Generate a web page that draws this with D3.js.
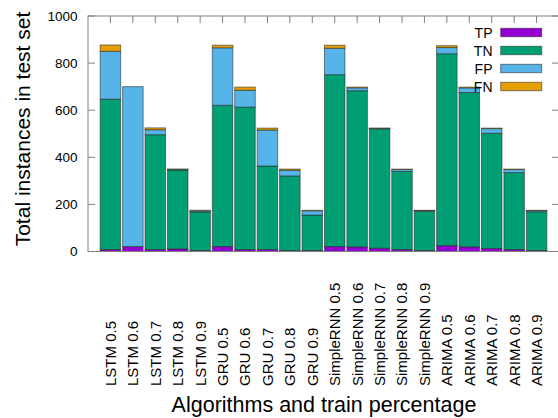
<!DOCTYPE html>
<html>
<head>
<meta charset="utf-8">
<script src="https://cdn.jsdelivr.net/npm/d3@7"></script>
<style>
  body { margin: 0; background: #fff; }
  svg { display: block; font-family: "Liberation Sans", Arial, sans-serif; }
</style>
</head>
<body>
<div id="chart"></div>
<script>
const categories = [
  "LSTM 0.5", "LSTM 0.6", "LSTM 0.7", "LSTM 0.8", "LSTM 0.9",
  "GRU 0.5", "GRU 0.6", "GRU 0.7", "GRU 0.8", "GRU 0.9",
  "SimpleRNN 0.5", "SimpleRNN 0.6", "SimpleRNN 0.7", "SimpleRNN 0.8", "SimpleRNN 0.9",
  "ARIMA 0.5", "ARIMA 0.6", "ARIMA 0.7", "ARIMA 0.8", "ARIMA 0.9"
];
const tpValues = [8, 21, 8, 11, 4, 21, 8, 8, 4, 4, 21, 20, 14, 8, 4, 25, 20, 13, 8, 4];
const tnValues = [639, 0, 488, 335, 164, 600, 605, 355, 317, 151, 730, 663, 507, 332, 167, 815, 655, 489, 327, 165];
const fpValues = [203, 679, 21, 3, 5, 244, 72, 153, 24, 18, 112, 12, 2, 8, 3, 26, 20, 20, 13, 5];
const fnValues = [27, 0, 8, 1, 2, 11, 13, 8, 5, 2, 13, 3, 1, 2, 1, 8, 3, 2, 2, 1];
const seriesKeys = ["TP", "TN", "FP", "FN"];
const seriesColors = ["#9400d3", "#009e73", "#56b4e9", "#e69f00"];
const yTicks = [0, 200, 400, 600, 800, 1000];

const W = 558, H = 418;
const plot = { left: 88, right: 559, top: 16, bottom: 251.5 };

const table = categories.map((c, i) => ({
  name: c, idx: i, TP: tpValues[i], TN: tnValues[i], FP: fpValues[i], FN: fnValues[i]
}));

const svg = d3.select("#chart").append("svg")
  .attr("width", W)
  .attr("height", H);

const x = d3.scaleLinear().domain([-1, 20]).range([plot.left, plot.right]);
const y = d3.scaleLinear().domain([0, 1000]).range([plot.bottom, plot.top]);
const color = d3.scaleOrdinal().domain(seriesKeys).range(seriesColors);
const barW = (x(1) - x(0)) * 0.915;

const stacked = d3.stack().keys(seriesKeys)(table);

// bars
svg.append("g")
  .selectAll("g")
  .data(stacked)
  .enter().append("g")
  .attr("fill", d => color(d.key))
  .selectAll("rect")
  .data(d => d)
  .enter().append("rect")
  .attr("x", d => x(d.data.idx) - barW / 2)
  .attr("y", d => y(d[1]))
  .attr("width", barW)
  .attr("height", d => y(d[0]) - y(d[1]))
  .attr("stroke", "#222")
  .attr("stroke-opacity", 0.55)
  .attr("stroke-width", 1);

// frame
const frameColor = "#808080";
svg.append("rect")
  .attr("x", plot.left)
  .attr("y", plot.top)
  .attr("width", plot.right - plot.left)
  .attr("height", plot.bottom - plot.top)
  .attr("fill", "none")
  .attr("stroke", frameColor)
  .attr("stroke-width", 1);

// y ticks (left and mirrored right)
const yAxisG = svg.append("g");
yTicks.forEach(t => {
  yAxisG.append("line")
    .attr("x1", plot.left).attr("x2", plot.left + 7)
    .attr("y1", y(t)).attr("y2", y(t))
    .attr("stroke", frameColor);
  yAxisG.append("line")
    .attr("x1", plot.right - 7).attr("x2", plot.right)
    .attr("y1", y(t)).attr("y2", y(t))
    .attr("stroke", frameColor);
  yAxisG.append("text")
    .attr("x", 77.5)
    .attr("y", y(t))
    .attr("dy", "0.36em")
    .attr("text-anchor", "end")
    .style("font-size", "13.5px")
    .attr("fill", "#000")
    .text(t);
});

// x ticks (top mirror) and labels
const xAxisG = svg.append("g");
categories.forEach((c, i) => {
  xAxisG.append("line")
    .attr("x1", x(i)).attr("x2", x(i))
    .attr("y1", plot.top).attr("y2", plot.top + 7)
    .attr("stroke", frameColor);
  xAxisG.append("text")
    .attr("transform", `translate(${x(i)},386) rotate(-90)`)
    .attr("dy", "0.36em")
    .attr("text-anchor", "start")
    .style("font-size", "15px")
    .attr("fill", "#000")
    .text(c);
});

// axis titles
svg.append("text")
  .attr("transform", "translate(29.5,129) rotate(-90)")
  .attr("text-anchor", "middle")
  .style("font-size", "21px")
  .text("Total instances in test set");

svg.append("text")
  .attr("x", 324)
  .attr("y", 412)
  .attr("text-anchor", "middle")
  .style("font-size", "21.5px")
  .text("Algorithms and train percentage");

// legend
const legend = svg.append("g");
seriesKeys.forEach((k, i) => {
  const cy = 32.5 + i * 18;
  legend.append("text")
    .attr("x", 492.5)
    .attr("y", cy)
    .attr("dy", "0.36em")
    .attr("text-anchor", "end")
    .style("font-size", "14px")
    .text(k);
  legend.append("rect")
    .attr("x", 500.7)
    .attr("y", cy - 4.2)
    .attr("width", 41)
    .attr("height", 8.4)
    .attr("fill", color(k))
    .attr("stroke", "#222")
    .attr("stroke-opacity", 0.55);
});
</script>
</body>
</html>
